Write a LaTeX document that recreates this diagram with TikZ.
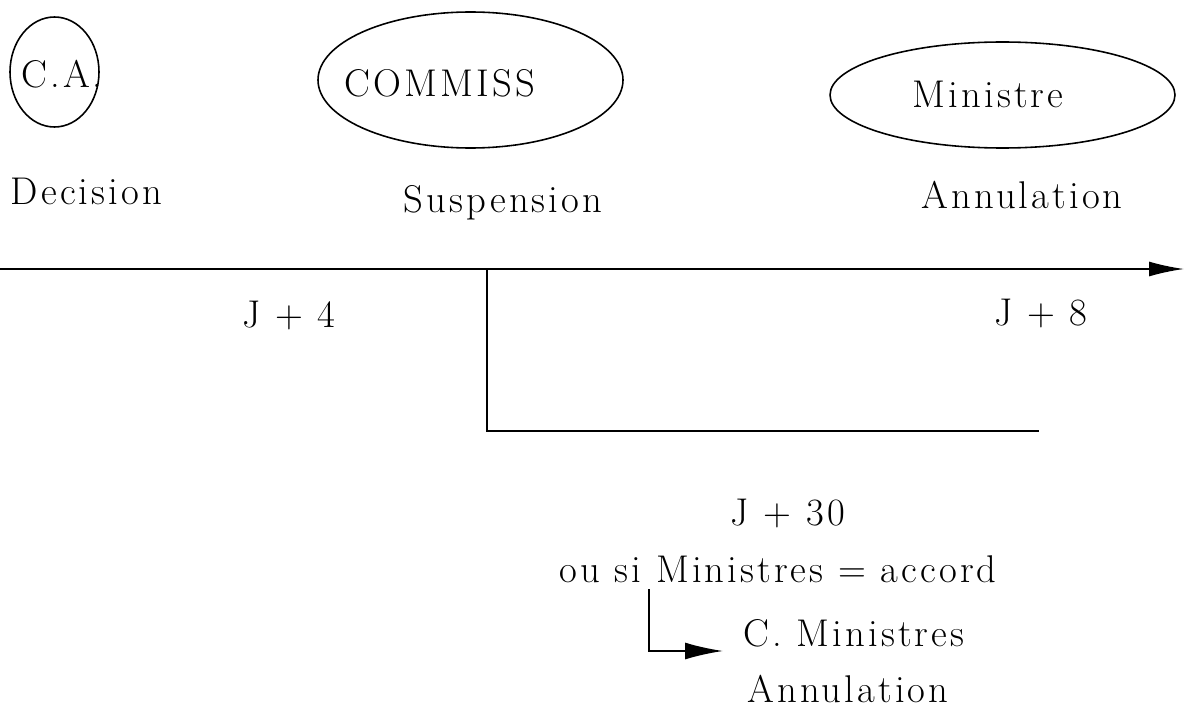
\documentclass[tikz,border=0pt]{standalone}
\usepackage{fontspec}
\setmainfont{Latin Modern Roman}[LetterSpace=8]
\usetikzlibrary{shapes,arrows.meta,positioning,calc}

\begin{document}
\begin{tikzpicture}[font=\fontsize{22}{26}\selectfont,
    bulle/.style={draw, ellipse, line width=0.9pt, inner sep=0pt},
    lbl/.style={inner sep=0pt, anchor=base},
    trait/.style={line width=1pt}]
            \useasboundingbox (0,0) rectangle (23.68,-14.18);
            % ellipses
            \node[bulle, minimum width=1.78cm, minimum height=2.2cm] (CA) at (1.09,-1.44) {};
            \node[lbl] (CAtxt) at (1.24,-1.76) {C.A.};
            \node[bulle, minimum width=6.1cm, minimum height=2.72cm] (COM) at (9.41,-1.6) {};
            \node[lbl] (COMtxt) at (8.8,-1.94) {COMMISS};
            \node[bulle, minimum width=6.9cm, minimum height=2.12cm] (MIN) at (20.05,-1.9) {};
            \node[lbl] (MINtxt) at (19.76,-2.16) {Ministre};
            
            % actions
            \node[lbl] (dec) at (1.73,-4.08) {Decision};
            \node[lbl] (susp) at (10.06,-4.26) {Suspension};
            \node[lbl] (annul) at (20.44,-4.16) {Annulation};
            
            % time axis
            \coordinate (t0) at (0,-5.38);
            \coordinate (t1) at (23.68,-5.38);
            \coordinate (s0) at (9.74,-5.38);
            \coordinate (s1) at (20.78,-8.62);
            \draw[trait, -{Latex[length=0.7cm,width=0.3cm]}] (t0) -- (t1);
            \draw[trait] (s0) |- (s1);
            \node[lbl] (j4) at (5.78,-6.54) {J + 4};
            \node[lbl] (j8) at (20.82,-6.5) {J + 8};
            
            % recours
            \node[lbl] (j30) at (15.76,-10.5) {J + 30};
            \node[lbl] (accord) at (15.56,-11.64) {ou si Ministres = accord};
            \node[lbl, anchor=base west] (cmin) at (14.86,-12.92) {C. Ministres};
            \node[lbl, anchor=base west] (annul2) at (14.94,-14.04) {Annulation};
            \coordinate (h0) at (12.98,-11.78);
            \draw[trait, -{Latex[length=0.76cm,width=0.34cm]}] (h0) |- ([xshift=-0.4cm,yshift=-0.1cm]cmin.base west);
        \end{tikzpicture}
\end{document}
